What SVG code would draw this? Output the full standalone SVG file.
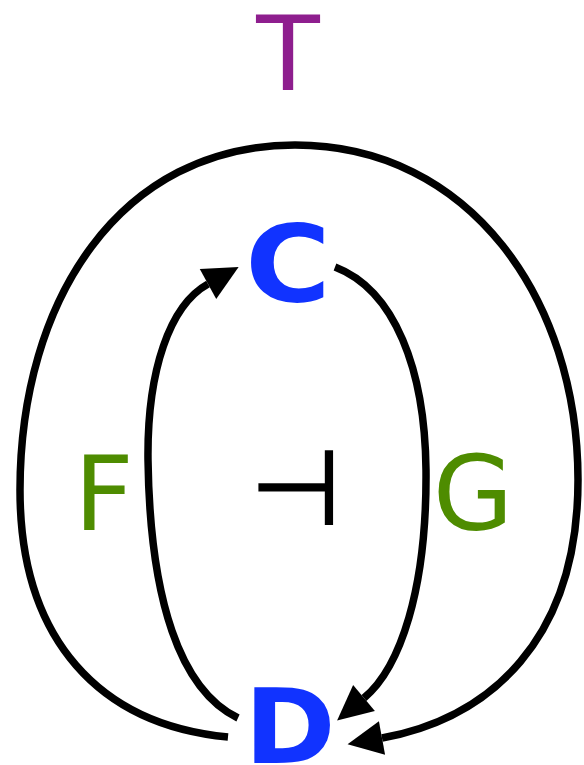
<svg xmlns="http://www.w3.org/2000/svg" width="584" height="765" viewBox="0 0 584 765">
<style>
.lbl{font-family:"DejaVu Sans",sans-serif;font-size:104px;text-anchor:middle}
.node{font-family:"DejaVu Sans",sans-serif;font-weight:bold;font-size:104px;fill:#1133ff;text-anchor:middle}
.edge{fill:none;stroke:#000;stroke-width:7.5}
</style>
<defs>
<marker id="ah" markerUnits="userSpaceOnUse" markerWidth="40" markerHeight="40" viewBox="0 -20 40 40" refX="0" refY="0" orient="auto" overflow="visible">
<path d="M0,-17 L35,0 L0,17 Z" fill="#000"/>
</marker>
</defs>
<g id="connectors">
<path class="edge" d="M228,737 C100,725 20,640 20,490 C20,300 120,145 295,145 C470,145 578,300 578,480 C578,640 490,718 382,738" marker-end="url(#ah)"/>
<path class="edge" d="M238,718 C180,690 150,600 148,460 C147,370 170,305 208,284" marker-end="url(#ah)"/>
<path class="edge" d="M335,267 C395,290 425,370 426,470 C427,590 400,668 364,698" marker-end="url(#ah)"/>
</g>
<g id="node-C"><text class="node" transform="translate(288,301) scale(1.12,1.03)" x="0" y="0">C</text></g>
<g id="node-D"><text class="node" transform="translate(290,763) scale(1.06,1)" x="0" y="0">D</text></g>
<g id="label-T"><text class="lbl" x="288" y="90" fill="#8e1e8e">T</text></g>
<g id="label-F"><text class="lbl" x="104" y="530" fill="#4e8c00">F</text></g>
<g id="label-G"><text class="lbl" x="473" y="530" fill="#4e8c00">G</text></g>
<g id="label-tack"><text class="lbl" x="295.5" y="524" font-size="68" fill="#000" stroke="#000" stroke-width="1.8">⊣</text></g>
</svg>
